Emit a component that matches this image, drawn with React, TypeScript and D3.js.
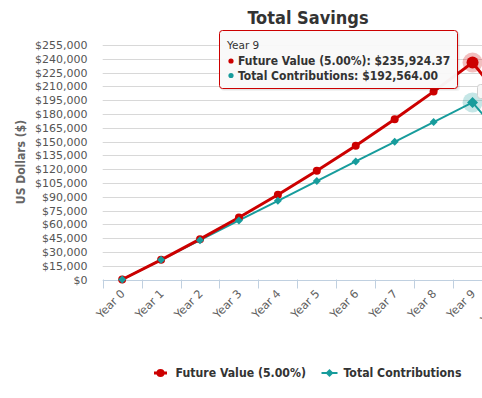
import React from "react";
import * as d3 from "d3";

const categories = ["Year 0", "Year 1", "Year 2", "Year 3", "Year 4", "Year 5", "Year 6", "Year 7", "Year 8", "Year 9", "Year 10"];
const futureValue = [0, 21396, 43861.8, 67450.89, 92219.43, 118226.4, 145533.68, 174207.36, 204313.73, 235924.37, 183000];
const contributions = [0, 21396, 42792, 64188, 85584, 106980, 128376, 149772, 171168, 192564, 143000];
const yTicks = d3.range(0, 255001, 15000);
const seriesNames = ["Future Value (5.00%)", "Total Contributions"];
const hoverIndex = 9;

const RED = "#cc0000";
const TEAL = "#179c9c";
const FONT = "'DejaVu Sans', sans-serif";
const BOLD = "'DejaVu Sans Condensed', 'DejaVu Sans', sans-serif";

export default function App() {
  const W = 482, H = 398;
  const left = 102.7, step = 38.93;
  const x = d3.scaleBand<string>().domain(categories).range([left, left + step * categories.length]).padding(0);
  const y = d3.scaleLinear().domain([0, 255000]).range([279.5, 45]);
  const cx = (c: string) => (x(c) as number) + x.bandwidth() / 2;
  const line = d3.line<number>().x((_, i) => cx(categories[i])).y((v) => y(v));
  const fmt = d3.format(",.0f");
  const diamond = (px: number, py: number, r: number) => `M${px},${py - r}L${px + r},${py}L${px},${py + r}L${px - r},${py}Z`;
  const axisY = y(0);
  const hx = cx(categories[hoverIndex]);
  const fmt2 = d3.format(",.2f");

  return (
    <svg width={W} height={H} style={{ position: "absolute", left: 0, top: 0, overflow: "hidden", background: "#fff" }} fontFamily={FONT}>
      <text x={308} y={24} textAnchor="middle" fontFamily={BOLD} fontWeight="bold" fontSize={18} fill="#333">Total Savings</text>
      {yTicks.map((t) => (
        <g key={t}>
          {t > 0 && <line x1={left} x2={W + 60} y1={Math.round(y(t)) + 0.5} y2={Math.round(y(t)) + 0.5} stroke="#d8d8d8" />}
          <text x={87.5} y={y(t) + 4} textAnchor="end" fontSize={11} fill="#555">{"$" + fmt(t)}</text>
        </g>
      ))}
      <text transform={`translate(25,162) rotate(-90)`} textAnchor="middle" fontFamily={BOLD} fontWeight="bold" fontSize={12} fill="#666">US Dollars ($)</text>
      <line x1={left} x2={W + 60} y1={Math.round(axisY) + 0.5} y2={Math.round(axisY) + 0.5} stroke="#c0d0e0" />
      {categories.map((c) => (
        <line key={"t" + c} x1={Math.round(x(c) as number) + 0.5} x2={Math.round(x(c) as number) + 0.5} y1={axisY} y2={axisY + 9} stroke="#c0d0e0" />
      ))}
      {categories.map((c) => (
        <text key={"l" + c} transform={`translate(${cx(c) + 3.5},${axisY + 15}) rotate(-45)`} textAnchor="end" fontSize={11.3} fill="#606060">{c}</text>
      ))}
      <path d={line(contributions) as string} fill="none" stroke={TEAL} strokeWidth={2} />
      <path d={line(futureValue) as string} fill="none" stroke={RED} strokeWidth={3} />
      {futureValue.map((v, i) => i !== hoverIndex && (
        <circle key={"r" + i} cx={cx(categories[i])} cy={y(v)} r={4} fill={RED} />
      ))}
      {contributions.map((v, i) => i !== hoverIndex && (
        <path key={"d" + i} d={diamond(cx(categories[i]), y(v), 4)} fill={TEAL} />
      ))}
      <circle cx={hx} cy={y(futureValue[hoverIndex])} r={10} fill={RED} opacity={0.25} />
      <circle cx={hx} cy={y(futureValue[hoverIndex])} r={6} fill={RED} />
      <circle cx={hx} cy={y(contributions[hoverIndex])} r={10} fill={TEAL} opacity={0.25} />
      <path d={diamond(hx, y(contributions[hoverIndex]), 5.5)} fill={TEAL} />
      <rect x={477.5} y={84.5} width={20} height={14} rx={3} fill="#f7f7f7" stroke="#d0d0d0" />
      <g>
        <rect x={221} y={32} width={239} height={59} rx={3} fill="#000" opacity={0.05} />
        <rect x={220} y={31} width={239} height={59} rx={3} fill="#000" opacity={0.05} />
        <rect x={219.5} y={30.5} width={238} height={58} rx={3} fill="#f9f9f9" fillOpacity={0.97} stroke={RED} />
        <text x={227} y={49} fontSize={10.5} fill="#333">{categories[hoverIndex]}</text>
        <circle cx={231} cy={61} r={2.6} fill={RED} />
        <text x={238} y={65} fontFamily={BOLD} fontWeight="bold" fontSize={12} fill="#333">{`${seriesNames[0]}: $${fmt2(futureValue[hoverIndex])}`}</text>
        <circle cx={231} cy={75.5} r={2.6} fill={TEAL} />
        <text x={238} y={79.5} fontFamily={BOLD} fontWeight="bold" fontSize={12} fill="#333">{`${seriesNames[1]}: $${fmt2(contributions[hoverIndex])}`}</text>
      </g>
      <g>
        <line x1={154} x2={167} y1={373} y2={373} stroke={RED} strokeWidth={3} />
        <circle cx={160.5} cy={373} r={4} fill={RED} />
        <text x={175.5} y={377} fontFamily={BOLD} fontWeight="bold" fontSize={12.2} fill="#333">{seriesNames[0]}</text>
        <line x1={321.5} x2={337.5} y1={373} y2={373} stroke={TEAL} strokeWidth={2} />
        <path d={diamond(329.5, 373, 4)} fill={TEAL} />
        <text x={343.5} y={377} fontFamily={BOLD} fontWeight="bold" fontSize={12.2} fill="#333">{seriesNames[1]}</text>
      </g>
    </svg>
  );
}
